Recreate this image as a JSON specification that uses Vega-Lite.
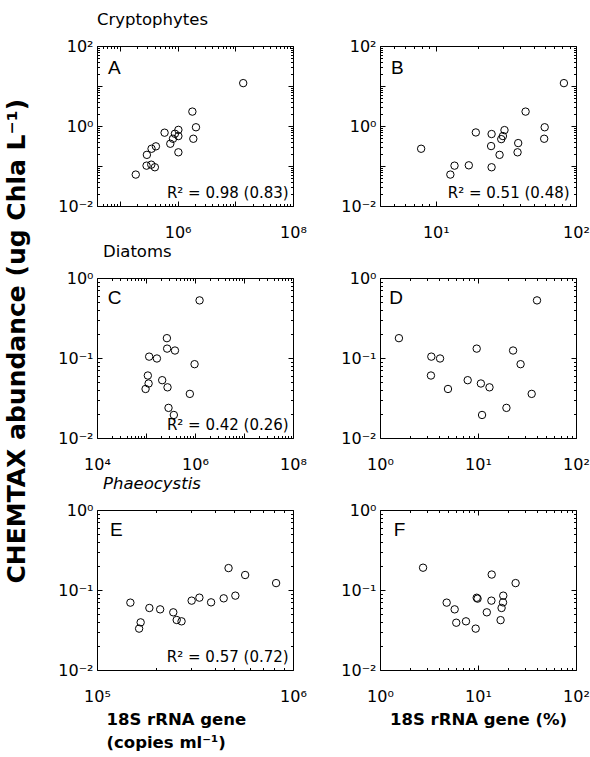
{
  "$schema": "https://vega.github.io/schema/vega-lite/v6.json",
  "background": "white",
  "padding": {"left": 5, "top": 11, "right": 5, "bottom": 0},
  "config": {
    "view": {"stroke": "black", "strokeWidth": 1},
    "axis": {"domain": false, "grid": false, "labelFont": "DejaVu Sans", "labelFontSize": 16, "labelColor": "black", "tickColor": "black", "tickWidth": 1, "labelFlush": false, "labelOverlap": false, "titleFont": "DejaVu Sans", "titleColor": "black"},
    "text": {"font": "DejaVu Sans"},
    "title": {"font": "DejaVu Sans", "color": "black"}
  },
  "title": {"text": "CHEMTAX abundance (ug Chla L⁻¹)", "orient": "left", "anchor": "middle", "fontSize": 25, "fontWeight": "bold", "color": "black", "offset": 27, "dx": 40},
  "columns": 2,
  "spacing": {"row": 72, "column": 87},
  "bounds": "flush",
  "concat": [
    {
      "width": 196, "height": 160,
      "title": {"text": "Cryptophytes", "anchor": "start", "frame": "group", "fontSize": 16.5, "fontWeight": "normal", "offset": 10},
      "data": {"values": [
        {"x": 13700000, "y": 11.8}, {"x": 1800000, "y": 2.29}, {"x": 2080000, "y": 0.93}, {"x": 1870000, "y": 0.48},
        {"x": 1030000, "y": 0.80}, {"x": 1030000, "y": 0.56}, {"x": 897000, "y": 0.64}, {"x": 830000, "y": 0.48},
        {"x": 746000, "y": 0.36}, {"x": 594000, "y": 0.68}, {"x": 1030000, "y": 0.22}, {"x": 420000, "y": 0.31},
        {"x": 353000, "y": 0.27}, {"x": 293000, "y": 0.19}, {"x": 289000, "y": 0.102}, {"x": 349000, "y": 0.108},
        {"x": 403000, "y": 0.093}, {"x": 188000, "y": 0.061}
      ]},
      "layer": [
        {"mark": {"type": "point", "shape": "circle", "filled": false, "color": "black", "size": 55, "strokeWidth": 1, "opacity": 1},
         "encoding": {
           "x": {"field": "x", "type": "quantitative", "scale": {"type": "log", "domain": [40000, 100000000], "nice": false},
                 "axis": {"orient": "bottom", "title": null, "labelPadding": 23,
                          "values": [40000,50000,60000,70000,80000,90000,100000,200000,300000,400000,500000,600000,700000,800000,900000,1000000,2000000,3000000,4000000,5000000,6000000,7000000,8000000,9000000,10000000,20000000,30000000,40000000,50000000,60000000,70000000,80000000,90000000,100000000],
                          "labelExpr": "datum.value == 1000000 ? '10⁶' : datum.value == 100000000 ? '10⁸' : ''",
                          "tickSize": {"condition": {"test": "abs(log(datum.value)/LN10 - round(log(datum.value)/LN10)) < 0.001", "value": -5}, "value": -2.5}}},
           "y": {"field": "y", "type": "quantitative", "scale": {"type": "log", "domain": [0.01, 100], "nice": false},
                 "axis": {"orient": "left", "title": null, "labelPadding": 9,
                          "values": [0.01,0.02,0.03,0.04,0.05,0.06,0.07,0.08,0.09,0.1,0.2,0.3,0.4,0.5,0.6,0.7,0.8,0.9,1,2,3,4,5,6,7,8,9,10,20,30,40,50,60,70,80,90,100],
                          "labelExpr": "datum.value == 100 ? '10²' : datum.value == 1 ? '10⁰' : datum.value == 0.01 ? '10⁻²' : ''",
                          "tickSize": {"condition": {"test": "abs(log(datum.value)/LN10 - round(log(datum.value)/LN10)) < 0.001", "value": -5}, "value": -2.5}}}
         }},
        {"mark": {"type": "point", "opacity": 0},
         "encoding": {
           "x": {"field": "x", "type": "quantitative",
                 "axis": {"orient": "top", "title": null, "labels": false,
                          "values": [40000,50000,60000,70000,80000,90000,100000,200000,300000,400000,500000,600000,700000,800000,900000,1000000,2000000,3000000,4000000,5000000,6000000,7000000,8000000,9000000,10000000,20000000,30000000,40000000,50000000,60000000,70000000,80000000,90000000,100000000],
                          "tickSize": {"condition": {"test": "abs(log(datum.value)/LN10 - round(log(datum.value)/LN10)) < 0.001", "value": -5}, "value": -2.5}}},
           "y": {"field": "y", "type": "quantitative",
                 "axis": {"orient": "right", "title": null, "labels": false,
                          "values": [0.01,0.02,0.03,0.04,0.05,0.06,0.07,0.08,0.09,0.1,0.2,0.3,0.4,0.5,0.6,0.7,0.8,0.9,1,2,3,4,5,6,7,8,9,10,20,30,40,50,60,70,80,90,100],
                          "tickSize": {"condition": {"test": "abs(log(datum.value)/LN10 - round(log(datum.value)/LN10)) < 0.001", "value": -5}, "value": -2.5}}}
         }},
        {"data": {"values": [{"label": "A"}]},
         "mark": {"type": "text", "align": "left", "baseline": "alphabetic", "font": "Liberation Sans", "fontSize": 19, "color": "black"},
         "encoding": {"x": {"datum": 62000, "type": "quantitative", "axis": null}, "y": {"datum": 20.3, "type": "quantitative", "axis": null}, "text": {"field": "label"}}},
        {"data": {"values": [{"label": "R² = 0.98 (0.83)"}]},
         "mark": {"type": "text", "align": "right", "baseline": "alphabetic", "fontSize": 15, "color": "black"},
         "encoding": {"x": {"datum": 84200000, "type": "quantitative", "axis": null}, "y": {"datum": 0.0156, "type": "quantitative", "axis": null}, "text": {"field": "label"}}}
      ],
      "resolve": {"axis": {"x": "independent", "y": "independent"}}
    },
    {
      "width": 196, "height": 160,
      "data": {"values": [
        {"x": 82, "y": 11.8}, {"x": 43.7, "y": 2.29}, {"x": 59.8, "y": 0.93}, {"x": 59.3, "y": 0.48},
        {"x": 30.9, "y": 0.79}, {"x": 30.1, "y": 0.56}, {"x": 29.3, "y": 0.47}, {"x": 25, "y": 0.63},
        {"x": 19.3, "y": 0.69}, {"x": 38.7, "y": 0.374}, {"x": 38.3, "y": 0.22}, {"x": 24.8, "y": 0.315},
        {"x": 28.5, "y": 0.19}, {"x": 7.86, "y": 0.27}, {"x": 17.2, "y": 0.104}, {"x": 13.6, "y": 0.102},
        {"x": 12.7, "y": 0.061}, {"x": 25, "y": 0.093}
      ]},
      "layer": [
        {"mark": {"type": "point", "shape": "circle", "filled": false, "color": "black", "size": 55, "strokeWidth": 1, "opacity": 1},
         "encoding": {
           "x": {"field": "x", "type": "quantitative", "scale": {"type": "log", "domain": [4, 100], "nice": false},
                 "axis": {"orient": "bottom", "title": null, "labelPadding": 23,
                          "values": [4,5,6,7,8,9,10,20,30,40,50,60,70,80,90,100],
                          "labelExpr": "datum.value == 10 ? '10¹' : datum.value == 100 ? '10²' : ''",
                          "tickSize": {"condition": {"test": "abs(log(datum.value)/LN10 - round(log(datum.value)/LN10)) < 0.001", "value": -5}, "value": -2.5}}},
           "y": {"field": "y", "type": "quantitative", "scale": {"type": "log", "domain": [0.01, 100], "nice": false},
                 "axis": {"orient": "left", "title": null, "labelPadding": 9,
                          "values": [0.01,0.02,0.03,0.04,0.05,0.06,0.07,0.08,0.09,0.1,0.2,0.3,0.4,0.5,0.6,0.7,0.8,0.9,1,2,3,4,5,6,7,8,9,10,20,30,40,50,60,70,80,90,100],
                          "labelExpr": "datum.value == 100 ? '10²' : datum.value == 1 ? '10⁰' : datum.value == 0.01 ? '10⁻²' : ''",
                          "tickSize": {"condition": {"test": "abs(log(datum.value)/LN10 - round(log(datum.value)/LN10)) < 0.001", "value": -5}, "value": -2.5}}}
         }},
        {"mark": {"type": "point", "opacity": 0},
         "encoding": {
           "x": {"field": "x", "type": "quantitative",
                 "axis": {"orient": "top", "title": null, "labels": false,
                          "values": [4,5,6,7,8,9,10,20,30,40,50,60,70,80,90,100],
                          "tickSize": {"condition": {"test": "abs(log(datum.value)/LN10 - round(log(datum.value)/LN10)) < 0.001", "value": -5}, "value": -2.5}}},
           "y": {"field": "y", "type": "quantitative",
                 "axis": {"orient": "right", "title": null, "labels": false,
                          "values": [0.01,0.02,0.03,0.04,0.05,0.06,0.07,0.08,0.09,0.1,0.2,0.3,0.4,0.5,0.6,0.7,0.8,0.9,1,2,3,4,5,6,7,8,9,10,20,30,40,50,60,70,80,90,100],
                          "tickSize": {"condition": {"test": "abs(log(datum.value)/LN10 - round(log(datum.value)/LN10)) < 0.001", "value": -5}, "value": -2.5}}}
         }},
        {"data": {"values": [{"label": "B"}]},
         "mark": {"type": "text", "align": "left", "baseline": "alphabetic", "font": "Liberation Sans", "fontSize": 19, "color": "black"},
         "encoding": {"x": {"datum": 4.79, "type": "quantitative", "axis": null}, "y": {"datum": 20.3, "type": "quantitative", "axis": null}, "text": {"field": "label"}}},
        {"data": {"values": [{"label": "R² = 0.51 (0.48)"}]},
         "mark": {"type": "text", "align": "right", "baseline": "alphabetic", "fontSize": 15, "color": "black"},
         "encoding": {"x": {"datum": 90, "type": "quantitative", "axis": null}, "y": {"datum": 0.0156, "type": "quantitative", "axis": null}, "text": {"field": "label"}}}
      ],
      "resolve": {"axis": {"x": "independent", "y": "independent"}}
    },
    {
      "width": 196, "height": 160,
      "title": {"text": "Diatoms", "anchor": "start", "frame": "group", "fontSize": 16.5, "fontWeight": "normal", "offset": 10, "dx": 6},
      "data": {"values": [
        {"x": 1240000, "y": 0.525}, {"x": 267000, "y": 0.177}, {"x": 270000, "y": 0.131}, {"x": 390000, "y": 0.124},
        {"x": 116000, "y": 0.104}, {"x": 167000, "y": 0.0986}, {"x": 980000, "y": 0.0837}, {"x": 109000, "y": 0.0604},
        {"x": 113000, "y": 0.048}, {"x": 98000, "y": 0.041}, {"x": 214000, "y": 0.0528}, {"x": 275000, "y": 0.043},
        {"x": 785000, "y": 0.0356}, {"x": 288000, "y": 0.0238}, {"x": 370000, "y": 0.0194}
      ]},
      "layer": [
        {"mark": {"type": "point", "shape": "circle", "filled": false, "color": "black", "size": 55, "strokeWidth": 1, "opacity": 1},
         "encoding": {
           "x": {"field": "x", "type": "quantitative", "scale": {"type": "log", "domain": [10000, 100000000], "nice": false},
                 "axis": {"orient": "bottom", "title": null, "labelPadding": 23,
                          "values": [10000,20000,30000,40000,50000,60000,70000,80000,90000,100000,200000,300000,400000,500000,600000,700000,800000,900000,1000000,2000000,3000000,4000000,5000000,6000000,7000000,8000000,9000000,10000000,20000000,30000000,40000000,50000000,60000000,70000000,80000000,90000000,100000000],
                          "labelExpr": "datum.value == 10000 ? '10⁴' : datum.value == 1000000 ? '10⁶' : datum.value == 100000000 ? '10⁸' : ''",
                          "tickSize": {"condition": {"test": "abs(log(datum.value)/LN10 - round(log(datum.value)/LN10)) < 0.001", "value": -5}, "value": -2.5}}},
           "y": {"field": "y", "type": "quantitative", "scale": {"type": "log", "domain": [0.01, 1], "nice": false},
                 "axis": {"orient": "left", "title": null, "labelPadding": 9,
                          "values": [0.01,0.02,0.03,0.04,0.05,0.06,0.07,0.08,0.09,0.1,0.2,0.3,0.4,0.5,0.6,0.7,0.8,0.9,1],
                          "labelExpr": "datum.value == 1 ? '10⁰' : datum.value == 0.1 ? '10⁻¹' : datum.value == 0.01 ? '10⁻²' : ''",
                          "tickSize": {"condition": {"test": "abs(log(datum.value)/LN10 - round(log(datum.value)/LN10)) < 0.001", "value": -5}, "value": -2.5}}}
         }},
        {"mark": {"type": "point", "opacity": 0},
         "encoding": {
           "x": {"field": "x", "type": "quantitative",
                 "axis": {"orient": "top", "title": null, "labels": false,
                          "values": [10000,20000,30000,40000,50000,60000,70000,80000,90000,100000,200000,300000,400000,500000,600000,700000,800000,900000,1000000,2000000,3000000,4000000,5000000,6000000,7000000,8000000,9000000,10000000,20000000,30000000,40000000,50000000,60000000,70000000,80000000,90000000,100000000],
                          "tickSize": {"condition": {"test": "abs(log(datum.value)/LN10 - round(log(datum.value)/LN10)) < 0.001", "value": -5}, "value": -2.5}}},
           "y": {"field": "y", "type": "quantitative",
                 "axis": {"orient": "right", "title": null, "labels": false,
                          "values": [0.01,0.02,0.03,0.04,0.05,0.06,0.07,0.08,0.09,0.1,0.2,0.3,0.4,0.5,0.6,0.7,0.8,0.9,1],
                          "tickSize": {"condition": {"test": "abs(log(datum.value)/LN10 - round(log(datum.value)/LN10)) < 0.001", "value": -5}, "value": -2.5}}}
         }},
        {"data": {"values": [{"label": "C"}]},
         "mark": {"type": "text", "align": "left", "baseline": "alphabetic", "font": "Liberation Sans", "fontSize": 19, "color": "black"},
         "encoding": {"x": {"datum": 16500, "type": "quantitative", "axis": null}, "y": {"datum": 0.473, "type": "quantitative", "axis": null}, "text": {"field": "label"}}},
        {"data": {"values": [{"label": "R² = 0.42 (0.26)"}]},
         "mark": {"type": "text", "align": "right", "baseline": "alphabetic", "fontSize": 15, "color": "black"},
         "encoding": {"x": {"datum": 81700000, "type": "quantitative", "axis": null}, "y": {"datum": 0.0126, "type": "quantitative", "axis": null}, "text": {"field": "label"}}}
      ],
      "resolve": {"axis": {"x": "independent", "y": "independent"}}
    },
    {
      "width": 196, "height": 160,
      "data": {"values": [
        {"x": 40, "y": 0.525}, {"x": 1.56, "y": 0.177}, {"x": 9.7, "y": 0.131}, {"x": 22.8, "y": 0.124},
        {"x": 3.34, "y": 0.104}, {"x": 4.1, "y": 0.0986}, {"x": 27.2, "y": 0.0837}, {"x": 3.31, "y": 0.0604},
        {"x": 4.94, "y": 0.041}, {"x": 7.85, "y": 0.0528}, {"x": 10.7, "y": 0.048}, {"x": 13.1, "y": 0.043},
        {"x": 35.3, "y": 0.0356}, {"x": 19.5, "y": 0.0238}, {"x": 11, "y": 0.0194}
      ]},
      "layer": [
        {"mark": {"type": "point", "shape": "circle", "filled": false, "color": "black", "size": 55, "strokeWidth": 1, "opacity": 1},
         "encoding": {
           "x": {"field": "x", "type": "quantitative", "scale": {"type": "log", "domain": [1, 100], "nice": false},
                 "axis": {"orient": "bottom", "title": null, "labelPadding": 23,
                          "values": [1,2,3,4,5,6,7,8,9,10,20,30,40,50,60,70,80,90,100],
                          "labelExpr": "datum.value == 1 ? '10⁰' : datum.value == 10 ? '10¹' : datum.value == 100 ? '10²' : ''",
                          "tickSize": {"condition": {"test": "abs(log(datum.value)/LN10 - round(log(datum.value)/LN10)) < 0.001", "value": -5}, "value": -2.5}}},
           "y": {"field": "y", "type": "quantitative", "scale": {"type": "log", "domain": [0.01, 1], "nice": false},
                 "axis": {"orient": "left", "title": null, "labelPadding": 9,
                          "values": [0.01,0.02,0.03,0.04,0.05,0.06,0.07,0.08,0.09,0.1,0.2,0.3,0.4,0.5,0.6,0.7,0.8,0.9,1],
                          "labelExpr": "datum.value == 1 ? '10⁰' : datum.value == 0.1 ? '10⁻¹' : datum.value == 0.01 ? '10⁻²' : ''",
                          "tickSize": {"condition": {"test": "abs(log(datum.value)/LN10 - round(log(datum.value)/LN10)) < 0.001", "value": -5}, "value": -2.5}}}
         }},
        {"mark": {"type": "point", "opacity": 0},
         "encoding": {
           "x": {"field": "x", "type": "quantitative",
                 "axis": {"orient": "top", "title": null, "labels": false,
                          "values": [1,2,3,4,5,6,7,8,9,10,20,30,40,50,60,70,80,90,100],
                          "tickSize": {"condition": {"test": "abs(log(datum.value)/LN10 - round(log(datum.value)/LN10)) < 0.001", "value": -5}, "value": -2.5}}},
           "y": {"field": "y", "type": "quantitative",
                 "axis": {"orient": "right", "title": null, "labels": false,
                          "values": [0.01,0.02,0.03,0.04,0.05,0.06,0.07,0.08,0.09,0.1,0.2,0.3,0.4,0.5,0.6,0.7,0.8,0.9,1],
                          "tickSize": {"condition": {"test": "abs(log(datum.value)/LN10 - round(log(datum.value)/LN10)) < 0.001", "value": -5}, "value": -2.5}}}
         }},
        {"data": {"values": [{"label": "D"}]},
         "mark": {"type": "text", "align": "left", "baseline": "alphabetic", "font": "Liberation Sans", "fontSize": 19, "color": "black"},
         "encoding": {"x": {"datum": 1.244, "type": "quantitative", "axis": null}, "y": {"datum": 0.473, "type": "quantitative", "axis": null}, "text": {"field": "label"}}}
      ],
      "resolve": {"axis": {"x": "independent", "y": "independent"}}
    },
    {
      "width": 196, "height": 160,
      "title": {"text": "Phaeocystis", "anchor": "start", "frame": "group", "fontSize": 16.5, "fontWeight": "normal", "fontStyle": "italic", "offset": 10, "dx": 6},
      "data": {"values": [
        {"x": 469000, "y": 0.188}, {"x": 570000, "y": 0.154}, {"x": 820000, "y": 0.122}, {"x": 508000, "y": 0.085},
        {"x": 443000, "y": 0.0787}, {"x": 333000, "y": 0.0802}, {"x": 304000, "y": 0.0736}, {"x": 382000, "y": 0.0701},
        {"x": 148000, "y": 0.0695}, {"x": 185000, "y": 0.0596}, {"x": 210000, "y": 0.0573}, {"x": 245000, "y": 0.0526},
        {"x": 255000, "y": 0.0422}, {"x": 270000, "y": 0.0406}, {"x": 167000, "y": 0.0394}, {"x": 164000, "y": 0.0329}
      ]},
      "layer": [
        {"mark": {"type": "point", "shape": "circle", "filled": false, "color": "black", "size": 55, "strokeWidth": 1, "opacity": 1},
         "encoding": {
           "x": {"field": "x", "type": "quantitative", "scale": {"type": "log", "domain": [100000, 1000000], "nice": false},
                 "axis": {"orient": "bottom", "labelPadding": 23,
                          "title": ["18S rRNA gene", "(copies ml⁻¹)"], "titleFontSize": 16.5, "titleFontWeight": "bold", "titleAlign": "left", "titleAnchor": "start", "titleX": 9, "titlePadding": 5, "titleLineHeight": 23,
                          "values": [100000,200000,300000,400000,500000,600000,700000,800000,900000,1000000],
                          "labelExpr": "datum.value == 100000 ? '10⁵' : datum.value == 1000000 ? '10⁶' : ''",
                          "tickSize": {"condition": {"test": "abs(log(datum.value)/LN10 - round(log(datum.value)/LN10)) < 0.001", "value": -5}, "value": -2.5}}},
           "y": {"field": "y", "type": "quantitative", "scale": {"type": "log", "domain": [0.01, 1], "nice": false},
                 "axis": {"orient": "left", "title": null, "labelPadding": 9,
                          "values": [0.01,0.02,0.03,0.04,0.05,0.06,0.07,0.08,0.09,0.1,0.2,0.3,0.4,0.5,0.6,0.7,0.8,0.9,1],
                          "labelExpr": "datum.value == 1 ? '10⁰' : datum.value == 0.1 ? '10⁻¹' : datum.value == 0.01 ? '10⁻²' : ''",
                          "tickSize": {"condition": {"test": "abs(log(datum.value)/LN10 - round(log(datum.value)/LN10)) < 0.001", "value": -5}, "value": -2.5}}}
         }},
        {"mark": {"type": "point", "opacity": 0},
         "encoding": {
           "x": {"field": "x", "type": "quantitative",
                 "axis": {"orient": "top", "title": null, "labels": false,
                          "values": [100000,200000,300000,400000,500000,600000,700000,800000,900000,1000000],
                          "tickSize": {"condition": {"test": "abs(log(datum.value)/LN10 - round(log(datum.value)/LN10)) < 0.001", "value": -5}, "value": -2.5}}},
           "y": {"field": "y", "type": "quantitative",
                 "axis": {"orient": "right", "title": null, "labels": false,
                          "values": [0.01,0.02,0.03,0.04,0.05,0.06,0.07,0.08,0.09,0.1,0.2,0.3,0.4,0.5,0.6,0.7,0.8,0.9,1],
                          "tickSize": {"condition": {"test": "abs(log(datum.value)/LN10 - round(log(datum.value)/LN10)) < 0.001", "value": -5}, "value": -2.5}}}
         }},
        {"data": {"values": [{"label": "E"}]},
         "mark": {"type": "text", "align": "left", "baseline": "alphabetic", "font": "Liberation Sans", "fontSize": 19, "color": "black"},
         "encoding": {"x": {"datum": 116500, "type": "quantitative", "axis": null}, "y": {"datum": 0.473, "type": "quantitative", "axis": null}, "text": {"field": "label"}}},
        {"data": {"values": [{"label": "R² = 0.57 (0.72)"}]},
         "mark": {"type": "text", "align": "right", "baseline": "alphabetic", "fontSize": 15, "color": "black"},
         "encoding": {"x": {"datum": 950000, "type": "quantitative", "axis": null}, "y": {"datum": 0.0126, "type": "quantitative", "axis": null}, "text": {"field": "label"}}}
      ],
      "resolve": {"axis": {"x": "independent", "y": "independent"}}
    },
    {
      "width": 196, "height": 160,
      "data": {"values": [
        {"x": 2.75, "y": 0.19}, {"x": 13.8, "y": 0.156}, {"x": 24.2, "y": 0.122}, {"x": 18.1, "y": 0.085},
        {"x": 9.7, "y": 0.08}, {"x": 9.9, "y": 0.078}, {"x": 13.7, "y": 0.0736}, {"x": 18, "y": 0.07},
        {"x": 4.79, "y": 0.0695}, {"x": 5.78, "y": 0.0573}, {"x": 17.4, "y": 0.0596}, {"x": 12.3, "y": 0.0526},
        {"x": 6.0, "y": 0.039}, {"x": 7.54, "y": 0.0406}, {"x": 17, "y": 0.042}, {"x": 9.47, "y": 0.0329}
      ]},
      "layer": [
        {"mark": {"type": "point", "shape": "circle", "filled": false, "color": "black", "size": 55, "strokeWidth": 1, "opacity": 1},
         "encoding": {
           "x": {"field": "x", "type": "quantitative", "scale": {"type": "log", "domain": [1, 100], "nice": false},
                 "axis": {"orient": "bottom", "labelPadding": 23,
                          "title": "18S rRNA gene (%)", "titleFontSize": 16.5, "titleFontWeight": "bold", "titlePadding": 5,
                          "values": [1,2,3,4,5,6,7,8,9,10,20,30,40,50,60,70,80,90,100],
                          "labelExpr": "datum.value == 1 ? '10⁰' : datum.value == 10 ? '10¹' : datum.value == 100 ? '10²' : ''",
                          "tickSize": {"condition": {"test": "abs(log(datum.value)/LN10 - round(log(datum.value)/LN10)) < 0.001", "value": -5}, "value": -2.5}}},
           "y": {"field": "y", "type": "quantitative", "scale": {"type": "log", "domain": [0.01, 1], "nice": false},
                 "axis": {"orient": "left", "title": null, "labelPadding": 9,
                          "values": [0.01,0.02,0.03,0.04,0.05,0.06,0.07,0.08,0.09,0.1,0.2,0.3,0.4,0.5,0.6,0.7,0.8,0.9,1],
                          "labelExpr": "datum.value == 1 ? '10⁰' : datum.value == 0.1 ? '10⁻¹' : datum.value == 0.01 ? '10⁻²' : ''",
                          "tickSize": {"condition": {"test": "abs(log(datum.value)/LN10 - round(log(datum.value)/LN10)) < 0.001", "value": -5}, "value": -2.5}}}
         }},
        {"mark": {"type": "point", "opacity": 0},
         "encoding": {
           "x": {"field": "x", "type": "quantitative",
                 "axis": {"orient": "top", "title": null, "labels": false,
                          "values": [1,2,3,4,5,6,7,8,9,10,20,30,40,50,60,70,80,90,100],
                          "tickSize": {"condition": {"test": "abs(log(datum.value)/LN10 - round(log(datum.value)/LN10)) < 0.001", "value": -5}, "value": -2.5}}},
           "y": {"field": "y", "type": "quantitative",
                 "axis": {"orient": "right", "title": null, "labels": false,
                          "values": [0.01,0.02,0.03,0.04,0.05,0.06,0.07,0.08,0.09,0.1,0.2,0.3,0.4,0.5,0.6,0.7,0.8,0.9,1],
                          "tickSize": {"condition": {"test": "abs(log(datum.value)/LN10 - round(log(datum.value)/LN10)) < 0.001", "value": -5}, "value": -2.5}}}
         }},
        {"data": {"values": [{"label": "F"}]},
         "mark": {"type": "text", "align": "left", "baseline": "alphabetic", "font": "Liberation Sans", "fontSize": 19, "color": "black"},
         "encoding": {"x": {"datum": 1.38, "type": "quantitative", "axis": null}, "y": {"datum": 0.473, "type": "quantitative", "axis": null}, "text": {"field": "label"}}}
      ],
      "resolve": {"axis": {"x": "independent", "y": "independent"}}
    }
  ]
}
